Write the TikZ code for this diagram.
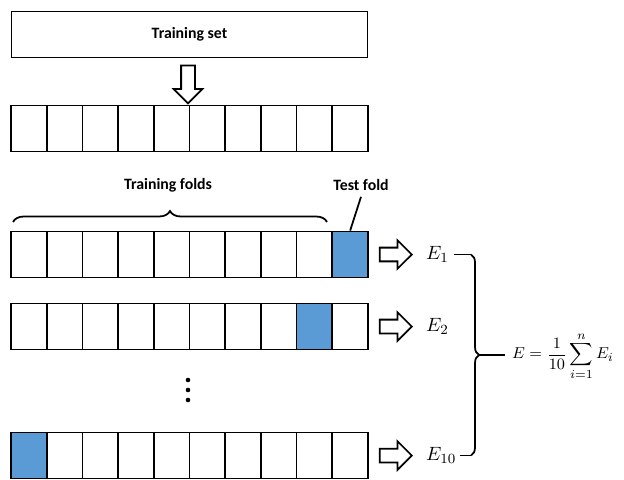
\documentclass[tikz,border=0pt]{standalone}
\usepackage{fontspec}
\newfontfamily\carlito{Carlito}
\usepackage{amsmath}
\usetikzlibrary{shapes.arrows}
\usetikzlibrary{decorations.pathreplacing}
\usetikzlibrary{positioning}
\usetikzlibrary{calc}
\usetikzlibrary{math}
\definecolor{foldblue}{HTML}{5B9BD5}
\tikzstyle{cell} = [draw=black, line width=1pt, minimum width=0.714cm, minimum height=0.92cm, inner sep=0pt]
\tikzstyle{fat} = [single arrow, draw=black, line width=1pt, minimum height=0.64cm, minimum width=0.54cm, single arrow head extend=0.15cm, inner sep=0.12cm]
\tikzstyle{lbl} = [font=\carlito\fontsize{9}{11}\selectfont\bfseries]
\tikzstyle{err} = [font=\fontsize{11}{13}\selectfont, inner sep=1pt]
\tikzstyle{brc} = [line width=1pt, decorate]

\begin{document}
\begin{tikzpicture}[x=0.02cm, y=-0.02cm]

  \tikzmath{\x0 = 11; \w = 35.7; \bx = 471;}

  \useasboundingbox (0,0) rectangle (624,479);

  \node[draw, line width=1pt, minimum width=7.12cm, minimum height=0.92cm, lbl] (trainset) at (189.5,34.5) {Training set};
  \node[fat, shape border rotate=270, minimum height=0.76cm] (down) at (188,81) {};

  % rows of folds, blue = test fold
  \foreach \r/\y/\b in {s/128.5/0, a/254.5/10, b/326.5/9, c/455.5/1} {
    \foreach \i in {1,...,10} {
      \ifnum\i=\b \def\fc{foldblue}\else \def\fc{white}\fi
      \node[cell, fill=\fc] (\r\i) at ({\x0+(\i-0.5)*\w}, \y) {};
    }
  }

  \coordinate (fl) at (13,222);
  \coordinate (fr) at (327,222);
  \draw[brc, decoration={brace, amplitude=0.22cm}] (fl) -- (fr);
  \node[lbl] (trainlbl) at (168,185) {Training folds};
  \node[lbl] (testlbl) at (361,185) {Test fold};
  \draw[line width=1pt] (testlbl.south) -- (a10.north);

  \foreach \d in {380, 390, 400}
    \fill (188,\d) circle (1.3pt);

  \node[fat, right=0.2cm of a10] (fa) {};
  \node[fat, right=0.2cm of b10] (fb) {};
  \node[fat, right=0.2cm of c10] (fc) {};
  \node[err, right=0.22cm of fa] (e1) {$E_1$};
  \node[err, right=0.22cm of fb] (e2) {$E_2$};
  \node[err, right=0.22cm of fc] (e10) {$E_{10}$};

  \path (\bx,0) coordinate (bx);
  \coordinate (bt) at (bx |- e1.east);
  \coordinate (bb) at (bx |- e10.east);
  \draw[brc, decoration={brace, amplitude=0.16cm}] (bt) -- (bb);
  \draw[line width=1pt] ([xshift=2pt]e1.east) -- (bt);
  \draw[line width=1pt] ([xshift=1pt]e10.east) -- (bb);
  \coordinate (btip) at ($(bt)!0.5!(bb)$);

  \node[font=\fontsize{9.5}{12}\selectfont, anchor=west, inner sep=1pt] (avg) at (510,356) {$E=\dfrac{1}{10}\displaystyle\sum_{i=1}^{n}E_i$};
  \draw[line width=1pt, shorten >=3pt] ([xshift=0.16cm]btip) -- (avg.west |- btip);

\end{tikzpicture}
\end{document}
